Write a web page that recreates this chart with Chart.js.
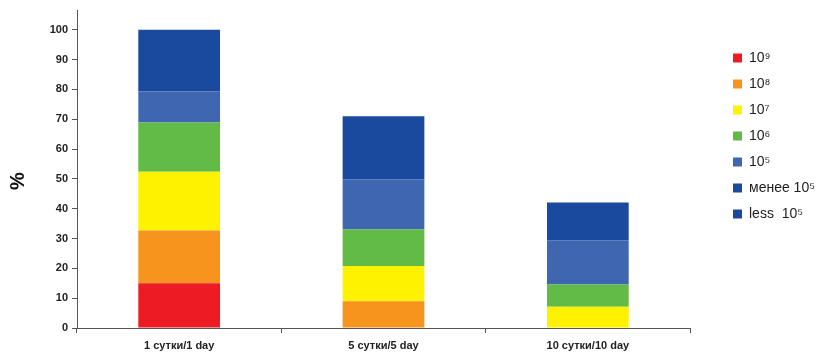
<!DOCTYPE html>
<html>
<head>
<meta charset="utf-8">
<script src="https://cdn.jsdelivr.net/npm/chart.js@4"></script>
<style>
html,body{margin:0;padding:0;background:#fff;}
#wrap{width:838px;height:358px;position:relative;}
</style>
</head>
<body>
<div id="wrap"><canvas id="c" width="838" height="358"></canvas></div>
<script>
const categories = ['1 сутки/1 day', '5 сутки/5 day', '10 сутки/10 day'];
const seriesNames = ['10⁹', '10⁸', '10⁷', '10⁶', '10⁵', 'менее 10⁵', 'less  10⁵'];
const s1e9 = [15.0, 0, 0];
const s1e8 = [17.7, 9.0, 0];
const s1e7 = [19.7, 11.8, 7.1];
const s1e6 = [16.5, 12.3, 7.5];
const s1e5 = [10.4, 16.8, 14.8];
const sLess = [20.7, 21.1, 12.7];
const sLessEn = [0, 0, 0];
const colors = ['#ED1C24', '#F7941D', '#FFF200', '#62BB46', '#3F67B1', '#1A4A9E', '#1A4A9E'];
const yTicks = [0, 10, 20, 30, 40, 50, 60, 70, 80, 90, 100];
const yTitle = '%';

const allSeries = [s1e9, s1e8, s1e7, s1e6, s1e5, sLess, sLessEn];
const datasets = allSeries.map((d, i) => ({
  label: seriesNames[i],
  data: d,
  backgroundColor: colors[i],
  borderWidth: 0,
  categoryPercentage: 0.8,
  barPercentage: 0.5
}));

const LEG_DX = 31, LEG_DY = 35, LEG_W = 148;
const legendShift = {
  id: 'legendShift',
  beforeInit(chart) {
    const lg = chart.legend;
    const origDraw = lg.draw;
    lg.draw = function() {
      const ctx = this.ctx;
      ctx.save();
      ctx.translate(LEG_DX, LEG_DY);
      origDraw.apply(this, arguments);
      ctx.restore();
    };
    const origFit = lg.fit;
    lg.fit = function() {
      origFit.apply(this, arguments);
      this.width = LEG_W;
    };
  }
};
const yTitlePlugin = {
  id: 'yTitlePlugin',
  afterDraw(chart) {
    const ctx = chart.ctx;
    ctx.save();
    ctx.translate(18, 181);
    ctx.rotate(-Math.PI / 2);
    ctx.font = 'bold 20px "Liberation Sans", Arial, sans-serif';
    ctx.fillStyle = '#111';
    ctx.textAlign = 'center';
    ctx.textBaseline = 'middle';
    ctx.fillText(yTitle, 0, 0);
    ctx.restore();
  }
};

new Chart(document.getElementById('c'), {
  type: 'bar',
  data: { labels: categories, datasets },
  plugins: [legendShift, yTitlePlugin],
  options: {
    responsive: false,
    animation: false,
    layout: { padding: { top: 4, left: 0, right: 0, bottom: 0 } },
    plugins: {
      legend: {
        position: 'right',
        align: 'start',
        labels: {
          boxWidth: 9, boxHeight: 9, padding: 12,
          color: '#222',
          font: { family: 'Liberation Sans, Arial, sans-serif', size: 14 }
        }
      },
      tooltip: { enabled: false }
    },
    scales: {
      x: {
        stacked: true,
        offset: true,
        grid: { display: true, drawOnChartArea: false, drawTicks: true, tickLength: 5, color: '#555', offset: true },
        border: { display: true, color: '#555', width: 1 },
        ticks: { color: '#222', padding: 6, font: { family: 'Liberation Sans, Arial, sans-serif', size: 11, weight: 'bold' } },
        afterFit(s) { s.height = 30; }
      },
      y: {
        stacked: true,
        min: 0,
        max: 106.4,
        afterBuildTicks(s) { s.ticks = yTicks.map(v => ({ value: v })); },
        grid: { display: true, drawOnChartArea: false, drawTicks: true, tickLength: 5, color: '#555' },
        border: { display: true, color: '#555', width: 1 },
        ticks: { color: '#222', padding: 4, font: { family: 'Liberation Sans, Arial, sans-serif', size: 11, weight: 'bold' } },
        title: { display: false },
        afterFit(s) { s.width = 77; }
      }
    }
  }
});
</script>
</body>
</html>
